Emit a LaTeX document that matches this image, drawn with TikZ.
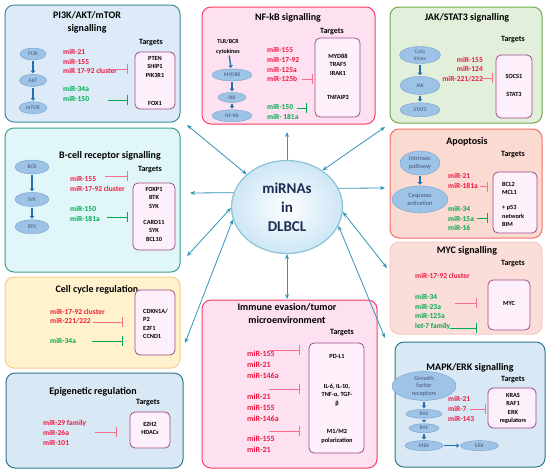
\documentclass[tikz,border=0pt]{standalone}
\usepackage{fontspec}
\setmainfont{Carlito}
\usetikzlibrary{positioning,shapes.geometric,arrows.meta}

\definecolor{mirred}{RGB}{238,24,64}
\definecolor{mirgreen}{RGB}{0,170,80}
\definecolor{redline}{RGB}{250,110,140}
\definecolor{linkblue}{RGB}{50,150,185}
\definecolor{stepblue}{RGB}{40,110,175}
\definecolor{tgdraw}{RGB}{160,75,140}
\definecolor{tgfill}{RGB}{253,240,250}
\definecolor{procfill}{RGB}{157,195,230}
\definecolor{procdraw}{RGB}{120,160,205}
\definecolor{proctext}{RGB}{70,85,115}
\definecolor{hubtext}{RGB}{30,45,85}
\definecolor{hubdraw}{RGB}{140,195,215}
\definecolor{hubfill}{RGB}{205,230,245}
\definecolor{tealdraw}{RGB}{64,140,150}
\definecolor{bluefill}{RGB}{220,235,247}
\definecolor{pinkdraw}{RGB}{255,60,100}
\definecolor{pinkfill}{RGB}{253,225,240}
\definecolor{greendraw}{RGB}{112,173,71}
\definecolor{greenfill}{RGB}{226,239,218}
\definecolor{cyandraw}{RGB}{60,160,150}
\definecolor{cyanfill}{RGB}{225,246,248}
\definecolor{yellowdraw}{RGB}{246,205,140}
\definecolor{yellowfill}{RGB}{255,242,204}
\definecolor{deepdraw}{RGB}{45,120,140}
\definecolor{deepfill}{RGB}{216,232,245}
\definecolor{salmondraw}{RGB}{250,110,100}
\definecolor{salmonfill}{RGB}{251,218,210}
\definecolor{mycdraw}{RGB}{245,200,195}
\definecolor{mycfill}{RGB}{251,222,218}

\tikzset{
	panel/.style 2 args={draw=#1, fill=#2, rounded corners=9pt, line width=1pt, inner sep=0pt},
	ttl/.style={font=\bfseries\fontsize{10}{12.5}\selectfont, align=center},
	tlbl/.style={font=\bfseries\fontsize{8}{9}\selectfont},
	tgt/.style={draw=tgdraw, fill=tgfill, rounded corners=5pt, line width=0.8pt, inner sep=0pt},
	tgtxt/.style={font=\bfseries\fontsize{6.3}{8.5}\selectfont, align=center, inner sep=0pt},
	proc/.style={ellipse, draw=procdraw, fill=procfill, inner sep=0pt, text=proctext, font=\fontsize{5.5}{6.5}\selectfont, align=center},
	bigproc/.style={proc, font=\fontsize{6.3}{7.5}\selectfont},
	upmir/.style={text=mirred, font=\bfseries\fontsize{7.5}{9.8}\selectfont, align=left, anchor=west, inner sep=0pt},
	downmir/.style={upmir, text=mirgreen},
	cascade/.style={stepblue, line width=1.4pt, -{Triangle[length=2.5pt,width=4.5pt]}, shorten <=1pt, shorten >=1pt},
	inhred/.style={redline, line width=0.9pt, -{Bar[width=10pt]}},
	inhgreen/.style={mirgreen, line width=0.9pt, -{Bar[width=10pt]}},
	link/.style={linkblue, line width=0.8pt},
	hub/.style={ellipse, draw=hubdraw, line width=1.2pt, inner color=white, outer color=hubfill, inner sep=0pt, text=hubtext, font=\bfseries\fontsize{15}{19}\selectfont, align=center},
}

\begin{document}
\begin{tikzpicture}[x=1pt, y=-1pt, >={Stealth[length=5pt,width=4pt]}]
	\useasboundingbox (0,0) rectangle (550,475);
	\fill[white] (0,0) rectangle (550,475);

	% PI3K/AKT/mTOR
	\node[panel={tealdraw}{bluefill}, minimum width=175pt, minimum height=117pt] (pik) at (92.5,63.5) {};
	\node[ttl] (pikT) at (87,22.5) {PI3K/AKT/mTOR\\signalling};
	\node[tlbl] (pikL) at (151,43) {Targets};
	\node[proc, minimum width=26pt, minimum height=12pt] (pi3k) at (33,54) {PI3K};
	\node[proc, minimum width=27pt, minimum height=12pt, below=14pt of pi3k] (akt) {AKT};
	\node[proc, minimum width=28pt, minimum height=12pt, below=15pt of akt] (mtor) {mTOR};
	\draw[cascade] (pi3k) -- (akt);
	\draw[cascade] (akt) -- (mtor);
	\node[upmir] (pikU) at (63,61.5) {miR-21\\miR-155\\miR 17-92 cluster};
	\node[downmir] (pikD) at (63,93.5) {miR-34a\\miR-150};
	\node[tgt, minimum width=40pt, minimum height=57pt] (pikB) at (155,80.5) {};
	\node[tgtxt] (pikB1) at (155,66.5) {PTEN\\SHIP1\\PIK3R1};
	\node[tgtxt] (pikB2) at (155,103) {FOX1};
	\coordinate (pikU1) at (110,69);
	\coordinate (pikD1) at (108,100);
	\draw[inhred, shorten >=7pt] (pikU1) -- (pikU1 -| pikB.west);
	\draw[inhgreen, shorten >=7pt] (pikD1) -- (pikD1 -| pikB.west);

	% NF-kB
	\node[panel={pinkdraw}{pinkfill}, minimum width=173pt, minimum height=117pt] (nfk) at (288.5,65.5) {};
	\node[ttl] (nfkT) at (288,18) {NF-kB signalling};
	\node[tlbl] (nfkL) at (332,32) {Targets};
	\node[tgtxt, font=\bfseries\fontsize{6}{9.5}\selectfont] (tlr) at (228,47) {TLR/BCR\\cytokines};
	\node[proc, minimum width=40pt, minimum height=12pt] (myd) at (232,75) {MYD88};
	\node[proc, minimum width=28pt, minimum height=10pt, below=11pt of myd] (ikk) {IKK};
	\node[proc, minimum width=40pt, minimum height=12pt, below=7pt of ikk] (nfkb) {NF-Kb};
	\draw[cascade] (tlr) -- (myd);
	\draw[cascade] (myd) -- (ikk);
	\draw[cascade] (ikk) -- (nfkb);
	\node[upmir] (nfkU) at (267,64.5) {miR-155\\miR-17-92\\miR-125a\\miR-125b};
	\node[downmir] (nfkD) at (267,112) {miR-150\\miR- 181a};
	\node[tgt, minimum width=45pt, minimum height=79pt] (nfkB) at (337.5,77.5) {};
	\node[tgtxt] (nfkB1) at (338,64.5) {MYD88\\TRAF5\\IRAK1};
	\node[tgtxt] (nfkB2) at (338,97) {TNFAIP3};
	\coordinate (nfkU1) at (302,79);
	\coordinate (nfkD1) at (297,108);
	\draw[inhred, shorten >=2pt] (nfkU1) -- (nfkU1 -| nfkB.west);
	\draw[inhgreen, shorten >=8pt] (nfkD1) -- (nfkD1 -| nfkB.west);

	% JAK/STAT3
	\node[panel={greendraw}{greenfill}, minimum width=152pt, minimum height=116pt] (jak) at (466,65) {};
	\node[ttl] (jakT) at (467,18) {JAK/STAT3 signalling};
	\node[tlbl] (jakL) at (513,40) {Targets};
	\node[proc, minimum width=41pt, minimum height=17pt] (cyto) at (420,55) {Cyto\\kines};
	\node[proc, minimum width=40pt, minimum height=18pt, below=12.5pt of cyto] (jk) {JAK};
	\node[proc, minimum width=40pt, minimum height=14pt, below=8pt of jk] (stat) {STAT3};
	\draw[cascade] (cyto) -- (jk);
	\draw[cascade] (jk) -- (stat);
	\node[upmir, anchor=east, align=right] (jakU) at (483,69.5) {miR-155\\miR-124\\miR-221/222};
	\node[tgt, minimum width=36pt, minimum height=63pt] (jakB) at (514,86.5) {};
	\node[tgtxt] (jakB1) at (514,76) {SOCS1};
	\node[tgtxt] (jakB2) at (514,94) {STAT3};
	\coordinate (jakU1) at (482,78);
	\draw[inhred, shorten >=3pt] (jakU1) -- (jakU1 -| jakB.west);

	% B-cell receptor
	\node[panel={cyandraw}{cyanfill}, minimum width=175pt, minimum height=144pt] (bcr) at (92.5,200) {};
	\node[ttl] (bcrT) at (110,156) {B-cell receptor signalling};
	\node[tlbl] (bcrL) at (150,170) {Targets};
	\node[proc, minimum width=34pt, minimum height=14pt] (bcrE) at (32,167) {BCR};
	\node[proc, minimum width=34pt, minimum height=14pt, below=18pt of bcrE] (syk) {SYK};
	\node[proc, minimum width=34pt, minimum height=14pt, below=13pt of syk] (btk) {BTK};
	\draw[cascade] (bcrE) -- (syk);
	\draw[cascade] (syk) -- (btk);
	\node[upmir] (bcrU) at (70,183.5) {miR-155\\miR-17-92 cluster};
	\node[downmir] (bcrD) at (70,213.5) {miR-150\\miR-181a};
	\node[tgt, minimum width=42pt, minimum height=67pt] (bcrB) at (154,216.5) {};
	\node[tgtxt] (bcrB1) at (154,197.5) {FOXP1\\BTK\\SYK};
	\node[tgtxt] (bcrB2) at (154,230.5) {CARD11\\SYK\\BCL10};
	\coordinate (bcrU1) at (105,176);
	\coordinate (bcrD1) at (107,217);
	\draw[inhred, shorten >=5pt] (bcrU1) -- (bcrU1 -| bcrB.west);
	\draw[inhgreen, shorten >=5pt] (bcrD1) -- (bcrD1 -| bcrB.west);

	% Cell cycle
	\node[panel={yellowdraw}{yellowfill}, minimum width=175pt, minimum height=91pt] (cyc) at (92.5,322.5) {};
	\node[ttl] (cycT) at (97,290) {Cell cycle regulation};
	\node[upmir] (cycU) at (50,316.5) {miR-17-92 cluster\\miR-221/222};
	\node[downmir] (cycD) at (50,341) {miR-34a};
	\node[tgt, minimum width=40pt, minimum height=65pt] (cycB) at (155,322.5) {};
	\node[tgtxt, anchor=west, align=left] (cycB1) at (143,324) {CDKN1A/\\P2\\E2F1\\CCND1};
	\coordinate (cycU1) at (93,322);
	\coordinate (cycD1) at (92,341);
	\draw[inhred, shorten >=12pt] (cycU1) -- (cycU1 -| cycB.west);
	\draw[inhgreen, shorten >=12pt] (cycD1) -- (cycD1 -| cycB.west);

	% Epigenetic
	\node[panel={deepdraw}{deepfill}, minimum width=177pt, minimum height=95pt] (epi) at (94.5,420.5) {};
	\node[ttl] (epiT) at (93,392) {Epigenetic regulation};
	\node[tlbl] (epiL) at (148,403) {Targets};
	\node[upmir] (epiU) at (43,433) {miR-29 family\\miR-26a\\miR-101};
	\node[tgt, minimum width=40pt, minimum height=36pt] (epiB) at (150,430) {};
	\node[tgtxt] (epiB1) at (150,428.5) {EZH2\\HDACs};
	\coordinate (epiU1) at (95,432);
	\draw[inhred, shorten >=13pt] (epiU1) -- (epiU1 -| epiB.west);

	% Immune evasion
	\node[panel={pinkdraw}{pinkfill}, minimum width=175pt, minimum height=168pt] (imm) at (289.5,384) {};
	\node[ttl, font=\bfseries\fontsize{10}{13}\selectfont] (immT) at (287,313.5) {Immune evasion/tumor\\microenvironment};
	\node[tlbl] (immL) at (342,333) {Targets};
	\node[upmir, font=\bfseries\fontsize{8}{11}\selectfont] (immU1) at (247,364.5) {miR-155\\miR-21\\miR-146a};
	\node[upmir, font=\bfseries\fontsize{8}{11}\selectfont] (immU2) at (247,408) {miR-21\\miR-155\\miR-146a};
	\node[upmir, font=\bfseries\fontsize{8}{11}\selectfont] (immU3) at (247,444) {miR-155\\miR-21};
	\node[tgt, minimum width=55pt, minimum height=110pt] (immB) at (336.5,398) {};
	\node[tgtxt] (immB1) at (337,356) {PD-L1};
	\node[tgtxt] (immB2) at (337,395) {IL-6, IL-10,\\TNF-α, TGF-\\β};
	\node[tgtxt] (immB3) at (337,436.5) {M1/M2\\polarization};
	\coordinate (immU1a) at (269,350);
	\coordinate (immU2a) at (269,389);
	\coordinate (immU3a) at (269,431);
	\draw[inhred, shorten >=9pt] (immU1a) -- (immU1a -| immB.west);
	\draw[inhred, shorten >=9pt] (immU2a) -- (immU2a -| immB.west);
	\draw[inhred, shorten >=9pt] (immU3a) -- (immU3a -| immB.west);

	% Apoptosis
	\node[panel={salmondraw}{salmonfill}, minimum width=152pt, minimum height=109pt] (apo) at (466,183.5) {};
	\node[ttl] (apoT) at (467,142) {Apoptosis};
	\node[tlbl] (apoL) at (513,155) {Targets};
	\node[bigproc, minimum width=40pt, minimum height=24pt] (intr) at (420,163) {Intrinsec\\pathway};
	\node[bigproc, minimum width=56pt, minimum height=27pt, below=10.5pt of intr] (casp) {Caspases\\activation};
	\draw[cascade] (intr) -- (casp);
	\node[upmir] (apoU) at (448,181) {miR-21\\miR-181a};
	\node[downmir] (apoD) at (448,218.5) {miR-34\\miR-15a\\miR-16};
	\node[tgt, minimum width=44pt, minimum height=61pt] (apoB) at (515,202.5) {};
	\node[tgtxt, anchor=west, align=left] (apoB1) at (502,188.5) {BCL2\\MCL1};
	\node[tgtxt, anchor=west, align=left] (apoB2) at (502,216) {+ p53\\network\\BIM};
	\coordinate (apoU1) at (480,186.5);
	\coordinate (apoD1) at (477,218);
	\draw[inhred, shorten >=5pt] (apoU1) -- (apoU1 -| apoB.west);
	\draw[inhgreen, shorten >=5pt] (apoD1) -- (apoD1 -| apoB.west);

	% MYC
	\node[panel={mycdraw}{mycfill}, minimum width=152pt, minimum height=92pt] (myc) at (466,288) {};
	\node[ttl] (mycT) at (467,251) {MYC signalling};
	\node[tlbl] (mycL) at (513,264) {Targets};
	\node[upmir] (mycU) at (415,276) {miR-17-92 cluster};
	\node[downmir] (mycD) at (415,312) {miR-34\\miR-23a\\miR-125a\\let-7 family};
	\node[tgt, minimum width=42pt, minimum height=50pt] (mycB) at (509,305) {};
	\node[tgtxt] (mycB1) at (509,303) {MYC};
	\coordinate (mycU1) at (455,303);
	\coordinate (mycD1) at (450,328);
	\draw[inhred, shorten >=11pt] (mycU1) -- (mycU1 -| mycB.west);
	\draw[inhgreen, shorten >=11pt] (mycD1) -- (mycD1 -| mycB.west);

	% MAPK/ERK
	\node[panel={deepdraw}{deepfill}, minimum width=150pt, minimum height=125pt] (mapk) at (470,404.5) {};
	\node[ttl] (mapkT) at (470,368) {MAPK/ERK signalling};
	\node[tlbl] (mapkL) at (513,380) {Targets};
	\node[bigproc, minimum width=64pt, minimum height=28pt] (gfr) at (424,386) {Growth\\factor\\receptors};
	\node[proc, minimum width=36pt, minimum height=9pt, below=8.5pt of gfr] (ras) {RAS};
	\node[proc, minimum width=30pt, minimum height=9pt, below=5pt of ras] (raf) {RAF};
	\node[proc, minimum width=38pt, minimum height=10pt, below=7.5pt of raf] (mek) {MEK};
	\node[proc, minimum width=38pt, minimum height=10pt, right=17pt of mek] (erk) {ERK};
	\draw[cascade] (gfr) -- (ras);
	\draw[cascade] (ras) -- (raf);
	\draw[cascade] (raf) -- (mek);
	\draw[cascade] (mek) -- (erk);
	\node[upmir] (mapkU) at (448,409) {miR-21\\miR-7\\miR-143};
	\node[tgt, minimum width=48pt, minimum height=40pt] (mapkB) at (512,408) {};
	\node[tgtxt] (mapkB1) at (513,408.5) {KRAS\\RAF1\\ERK\\regulators};
	\coordinate (mapkU1) at (470,409);
	\draw[inhred, shorten >=2pt] (mapkU1) -- (mapkU1 -| mapkB.west);

	% centre
	\node[hub, minimum width=111pt, minimum height=93pt] (hub) at (287,207) {miRNAs\\in\\DLBCL};
	\coordinate (toPik) at (187,125);
	\coordinate (toNfk) at (287,132);
	\coordinate (toJak) at (385,127);
	\coordinate (toBcr) at (190,193);
	\coordinate (toCyc) at (187,256);
	\coordinate (toEpi) at (185,343);
	\coordinate (toImm) at (287,299);
	\coordinate (toApo) at (385,188);
	\coordinate (toMyc) at (387,268);
	\coordinate (toMapk) at (385,338);
	\draw[link, <->] (hub.141) -- (toPik);
	\draw[link, ->] (hub.90) -- (toNfk);
	\draw[link, <->] (hub.46) -- (toJak);
	\draw[link, ->] (hub.165) -- (toBcr);
	\draw[link, <->] (hub.181) -- (toCyc);
	\draw[link, <->] (hub.193) -- (toEpi);
	\draw[link, <->] (hub.270) -- (toImm);
	\draw[link, ->] (hub.20) -- (toApo);
	\draw[link, <->] (hub.355) -- (toMyc);
	\draw[link, <->] (hub.340) -- (toMapk);
\end{tikzpicture}
\end{document}
